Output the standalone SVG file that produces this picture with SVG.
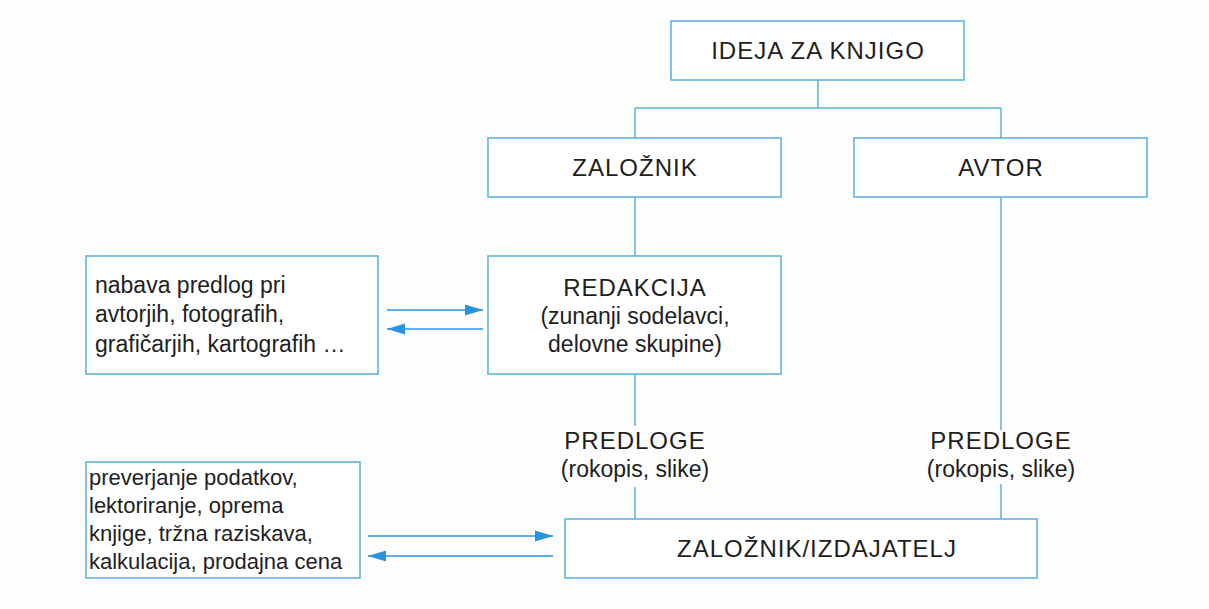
<svg xmlns="http://www.w3.org/2000/svg" width="1209" height="609" viewBox="0 0 1209 609">
<style>
.box{fill:#ffffff;stroke:#62b4dc;stroke-width:1.6}
.con{fill:none;stroke:#5eb0d6;stroke-width:1.5}
.arr{fill:none;stroke:#2a93df;stroke-width:1.5}
.t{font-family:"Liberation Sans",Arial,Helvetica,sans-serif;fill:#1e1e1e}
.h{font-size:24px;text-anchor:middle;letter-spacing:1px}
.s{font-size:23px;text-anchor:middle}
.l{font-size:23px}
.l2{font-size:22px}
</style>
<defs>
<marker id="ah" markerUnits="userSpaceOnUse" markerWidth="18" markerHeight="12" refX="18" refY="6" orient="auto" viewBox="0 0 18 12">
<path d="M0,0.5 L18,6 L0,11.5 z" fill="#2a93df"/>
</marker>
</defs>
<rect width="1209" height="609" fill="#fdfdfd"/>
<g id="connectors">
<path class="con" d="M818,80 V108 M635,108 H1001 M635,108 V138 M1001,108 V138"/>
<path class="con" d="M635,197 V256"/>
<path class="con" d="M635,374 V426 M635,487 V519"/>
<path class="con" d="M1001,197 V430 M1001,484 V519"/>
<line class="arr" x1="387" y1="310" x2="483" y2="310" marker-end="url(#ah)"/>
<line class="arr" x1="483" y1="329" x2="387" y2="329" marker-end="url(#ah)"/>
<line class="arr" x1="368" y1="536" x2="553" y2="536" marker-end="url(#ah)"/>
<line class="arr" x1="553" y1="556" x2="368" y2="556" marker-end="url(#ah)"/>
</g>
<g id="ideja">
<rect class="box" x="671" y="21" width="293" height="59"/>
<text class="t h" x="818" y="59">IDEJA ZA KNJIGO</text>
</g>
<g id="zaloznik">
<rect class="box" x="488" y="138" width="293" height="59"/>
<text class="t h" x="635" y="176">ZALOŽNIK</text>
</g>
<g id="avtor">
<rect class="box" x="854" y="138" width="293" height="59"/>
<text class="t h" x="1001" y="176">AVTOR</text>
</g>
<g id="redakcija">
<rect class="box" x="488" y="256" width="293" height="118"/>
<text class="t h" x="635" y="296">REDAKCIJA</text>
<text class="t s" x="635" y="324">(zunanji sodelavci,</text>
<text class="t s" x="635" y="352">delovne skupine)</text>
</g>
<g id="nabava">
<rect class="box" x="86" y="256" width="292" height="118"/>
<text class="t l" x="95" y="293">nabava predlog pri</text>
<text class="t l" x="95" y="322">avtorjih, fotografih,</text>
<text class="t l" x="95" y="352">grafičarjih, kartografih …</text>
</g>
<g id="predloge1">
<text class="t h" x="635" y="449">PREDLOGE</text>
<text class="t s" x="635" y="477">(rokopis, slike)</text>
</g>
<g id="predloge2">
<text class="t h" x="1001" y="449">PREDLOGE</text>
<text class="t s" x="1001" y="477">(rokopis, slike)</text>
</g>
<g id="preverjanje">
<rect class="box" x="86" y="462" width="274" height="116"/>
<text class="t l2" x="89" y="485">preverjanje podatkov,</text>
<text class="t l2" x="89" y="513">lektoriranje, oprema</text>
<text class="t l2" x="89" y="541">knjige, tržna raziskava,</text>
<text class="t l2" x="89" y="569">kalkulacija, prodajna cena</text>
</g>
<g id="izdajatelj">
<rect class="box" x="565" y="519" width="472" height="59"/>
<text class="t h" x="817" y="557">ZALOŽNIK/IZDAJATELJ</text>
</g>
</svg>
